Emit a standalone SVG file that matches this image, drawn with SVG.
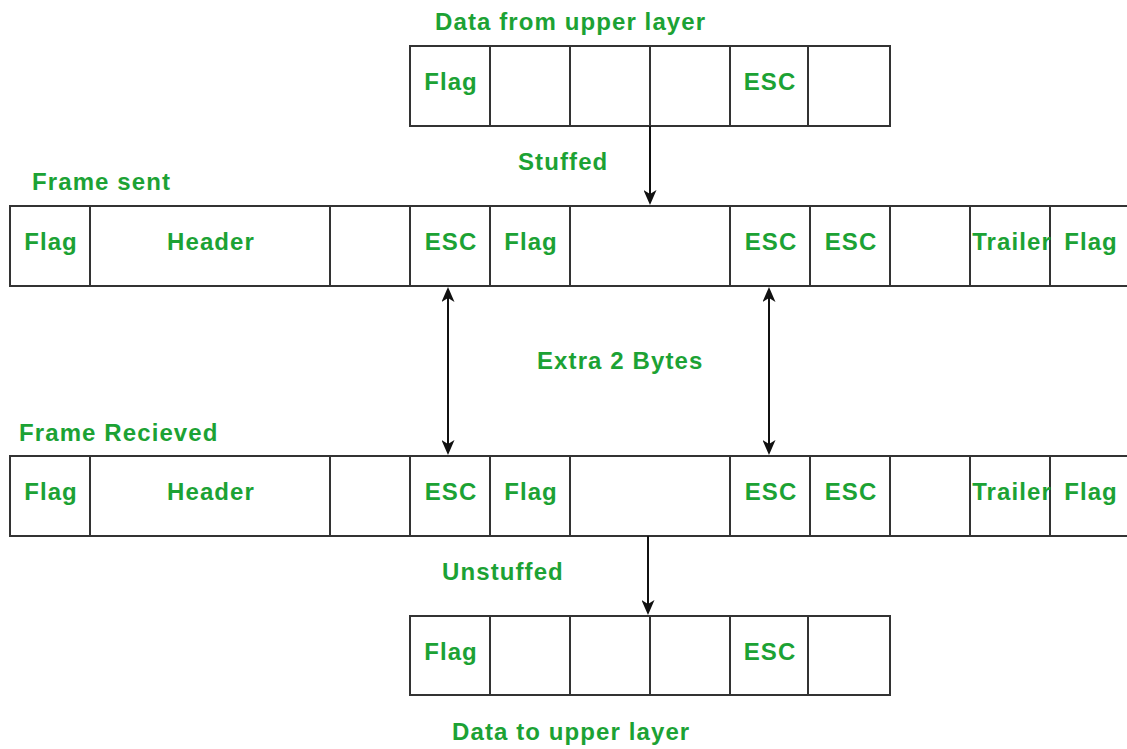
<svg xmlns="http://www.w3.org/2000/svg" width="1127" height="749" viewBox="0 0 1127 749">
<defs>
<style>
.box{fill:#fff;stroke:#333;stroke-width:2}
.div{stroke:#333;stroke-width:2}
.t{font-family:"Liberation Sans",Arial,sans-serif;font-weight:bold;font-size:24px;fill:#1ca234;letter-spacing:1.1px}
.m{text-anchor:middle}
.conn{stroke:#111;stroke-width:2;fill:none}
</style>
<marker id="ah" viewBox="0 0 15 13" refX="11" refY="6.5" markerWidth="15" markerHeight="13" markerUnits="userSpaceOnUse" orient="auto-start-reverse">
<path d="M0,0 L15,6.5 L0,13 L4,6.5 Z" fill="#111"/>
</marker>
</defs>
<rect width="1127" height="749" fill="#fff"/>

<g id="data-from-upper">
<text class="t" x="435" y="30">Data from upper layer</text>
<rect class="box" x="410" y="46" width="480" height="80"/>
<line class="div" x1="490" y1="46" x2="490" y2="126"/>
<line class="div" x1="570" y1="46" x2="570" y2="126"/>
<line class="div" x1="650" y1="46" x2="650" y2="126"/>
<line class="div" x1="730" y1="46" x2="730" y2="126"/>
<line class="div" x1="808" y1="46" x2="808" y2="126"/>
<text class="t m" x="451" y="90">Flag</text>
<text class="t m" x="770" y="90">ESC</text>
</g>

<g id="frame-sent">
<text class="t" x="32" y="190">Frame sent</text>
<rect class="box" x="10" y="206" width="1120" height="80"/>
<line class="div" x1="90" y1="206" x2="90" y2="286"/>
<line class="div" x1="330" y1="206" x2="330" y2="286"/>
<line class="div" x1="410" y1="206" x2="410" y2="286"/>
<line class="div" x1="490" y1="206" x2="490" y2="286"/>
<line class="div" x1="570" y1="206" x2="570" y2="286"/>
<line class="div" x1="730" y1="206" x2="730" y2="286"/>
<line class="div" x1="810" y1="206" x2="810" y2="286"/>
<line class="div" x1="890" y1="206" x2="890" y2="286"/>
<line class="div" x1="970" y1="206" x2="970" y2="286"/>
<line class="div" x1="1050" y1="206" x2="1050" y2="286"/>
<text class="t m" x="51" y="250">Flag</text>
<text class="t m" x="211" y="250">Header</text>
<text class="t m" x="451" y="250">ESC</text>
<text class="t m" x="531" y="250">Flag</text>
<text class="t m" x="771" y="250">ESC</text>
<text class="t m" x="851" y="250">ESC</text>
<text class="t m" x="1012" y="250">Trailer</text>
<text class="t m" x="1091" y="250">Flag</text>
</g>

<g id="frame-received">
<text class="t" x="19" y="441">Frame Recieved</text>
<rect class="box" x="10" y="456" width="1120" height="80"/>
<line class="div" x1="90" y1="456" x2="90" y2="536"/>
<line class="div" x1="330" y1="456" x2="330" y2="536"/>
<line class="div" x1="410" y1="456" x2="410" y2="536"/>
<line class="div" x1="490" y1="456" x2="490" y2="536"/>
<line class="div" x1="570" y1="456" x2="570" y2="536"/>
<line class="div" x1="730" y1="456" x2="730" y2="536"/>
<line class="div" x1="810" y1="456" x2="810" y2="536"/>
<line class="div" x1="890" y1="456" x2="890" y2="536"/>
<line class="div" x1="970" y1="456" x2="970" y2="536"/>
<line class="div" x1="1050" y1="456" x2="1050" y2="536"/>
<text class="t m" x="51" y="500">Flag</text>
<text class="t m" x="211" y="500">Header</text>
<text class="t m" x="451" y="500">ESC</text>
<text class="t m" x="531" y="500">Flag</text>
<text class="t m" x="771" y="500">ESC</text>
<text class="t m" x="851" y="500">ESC</text>
<text class="t m" x="1012" y="500">Trailer</text>
<text class="t m" x="1091" y="500">Flag</text>
</g>

<g id="data-to-upper">
<rect class="box" x="410" y="616" width="480" height="79"/>
<line class="div" x1="490" y1="616" x2="490" y2="695"/>
<line class="div" x1="570" y1="616" x2="570" y2="695"/>
<line class="div" x1="650" y1="616" x2="650" y2="695"/>
<line class="div" x1="730" y1="616" x2="730" y2="695"/>
<line class="div" x1="808" y1="616" x2="808" y2="695"/>
<text class="t m" x="451" y="660">Flag</text>
<text class="t m" x="770" y="660">ESC</text>
<text class="t" x="452" y="740">Data to upper layer</text>
</g>

<g id="connectors">
<line class="conn" x1="650" y1="126" x2="650" y2="201" marker-end="url(#ah)"/>
<line class="conn" x1="448" y1="291" x2="448" y2="451" marker-start="url(#ah)" marker-end="url(#ah)"/>
<line class="conn" x1="769" y1="291" x2="769" y2="451" marker-start="url(#ah)" marker-end="url(#ah)"/>
<line class="conn" x1="648" y1="536" x2="648" y2="611" marker-end="url(#ah)"/>
<text class="t" x="518" y="170">Stuffed</text>
<text class="t" x="537" y="369">Extra 2 Bytes</text>
<text class="t" x="442" y="580">Unstuffed</text>
</g>
</svg>
